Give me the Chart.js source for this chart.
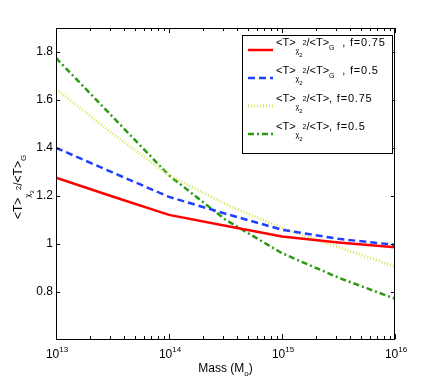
<!DOCTYPE html>
<html>
<head>
<meta charset="utf-8">
<script src="https://cdn.jsdelivr.net/npm/chart.js@4/dist/chart.umd.min.js"></script>
<style>
  html, body { margin: 0; padding: 0; background: #fff; }
</style>
</head>
<body>
<canvas id="chart" width="436" height="382"></canvas>
<script>
// data (mass in solar masses)
const mass = [1e13, 3.16e13, 1e14, 3.16e14, 1e15, 3.16e15, 1e16];
const ratioG75 = [1.275, 1.197, 1.12, 1.075, 1.03, 1.005, 0.985];
const ratioG50 = [1.40, 1.297, 1.195, 1.125, 1.058, 1.02, 0.995];
const ratioT75 = [1.645, 1.46, 1.285, 1.165, 1.065, 0.985, 0.905];
const ratioT50 = [1.775, 1.53, 1.285, 1.10, 0.96, 0.858, 0.77];

const yTicks = [0.8, 1, 1.2, 1.4, 1.6, 1.8];
const xDecades = [13, 14, 15, 16];
const legendTails = ['  , f=0.75', '  , f=0.5', ', f=0.75', ', f=0.5'];
const legendHasG = [true, true, false, false];

const FONT = '"Liberation Sans", Arial, Helvetica, sans-serif';
const font = s => s + 'px ' + FONT;

const series = [
  { data: ratioG75, color: '#ff0000', dash: [] },
  { data: ratioG50, color: '#2040ff', dash: [7, 4] },
  { data: ratioT75, color: '#d6e65e', dash: [1, 2] },
  { data: ratioT50, color: '#2a9a12', dash: [6, 3, 2, 3] }
];

// draws (or just measures) a run of text pieces; returns its width
function run(ctx, pieces, x, y, draw) {
  let cx = x;
  pieces.forEach(p => {
    ctx.font = font(p.s);
    ctx.letterSpacing = (p.ls || 0) + 'px';
    if (draw) ctx.fillText(p.t, cx, y + (p.dy || 0));
    cx += ctx.measureText(p.t).width;
    ctx.letterSpacing = '0px';
  });
  return cx - x;
}

// <T> with chi_2 subscript and 2 superscript, over <T> (or <T>_G)
function ratioPieces(base, withG, tail) {
  const k = base / 11;
  const small = Math.round(base * 0.68), tiny = Math.round(base * 0.5);
  const p = [
    { t: '<T>', s: base },
    { t: 'χ', s: small, dy: 7 * k },
    { t: '2', s: tiny, dy: 11 * k },
    { t: '2', s: small, dy: -1 * k },
    { t: '/<T>', s: base }
  ];
  if (withG) p.push({ t: 'G', s: small, dy: 4 * k });
  if (tail) p.push({ t: tail, s: base, ls: 0.8 });
  return p;
}

const decorations = {
  id: 'decorations',
  afterDraw(chart) {
    const ctx = chart.ctx;
    const a = chart.chartArea;
    const xs = chart.scales.x, ys = chart.scales.y;
    ctx.save();
    ctx.strokeStyle = '#000';
    ctx.fillStyle = '#000';
    ctx.lineWidth = 1;
    ctx.setLineDash([]);

    // axes box
    ctx.strokeRect(a.left + 0.5, a.top + 0.5, a.right - a.left - 1, a.bottom - a.top);

    // inward tick marks on all four sides
    ctx.beginPath();
    xs.ticks.forEach(t => {
      const px = Math.round(xs.getPixelForValue(t.value)) + 0.5;
      const major = Number.isInteger(Math.round(Math.log10(t.value) * 1000) / 1000);
      const len = major ? 5 : 3;
      ctx.moveTo(px, a.bottom); ctx.lineTo(px, a.bottom - len);
      ctx.moveTo(px, a.top); ctx.lineTo(px, a.top + len);
    });
    ys.ticks.forEach(t => {
      const py = Math.round(ys.getPixelForValue(t.value)) + 0.5;
      ctx.moveTo(a.left, py); ctx.lineTo(a.left + 4, py);
      ctx.moveTo(a.right, py); ctx.lineTo(a.right - 4, py);
    });
    ctx.stroke();

    // x tick labels with superscript exponents
    ctx.textBaseline = 'alphabetic';
    ctx.textAlign = 'left';
    xDecades.forEach(d => {
      const px = xs.getPixelForValue(Math.pow(10, d));
      const pieces = [{ t: '10', s: 12 }, { t: String(d), s: 8, dy: -6 }];
      const w = run(ctx, pieces, 0, 0, false);
      run(ctx, pieces, px - w / 2 + 1, a.bottom + 19, true);
    });

    // x title
    const xt = [{ t: 'Mass (M', s: 12 }, { t: 'o', s: 8, dy: 4 }, { t: ')', s: 12 }];
    const xw = run(ctx, xt, 0, 0, false);
    run(ctx, xt, (a.left + a.right) / 2 - xw / 2, 372, true);

    // y title, rotated
    const yt = ratioPieces(12, true, '');
    const yw = run(ctx, yt, 0, 0, false);
    ctx.save();
    ctx.translate(22, 187);
    ctx.rotate(-Math.PI / 2);
    run(ctx, yt, -yw / 2, 0, true);
    ctx.restore();

    // legend box
    const lx = 242, ly = 35, lw = 150, lh = 118;
    ctx.fillStyle = '#fff';
    ctx.fillRect(lx, ly, lw, lh);
    ctx.strokeStyle = '#000';
    ctx.strokeRect(lx + 0.5, ly + 0.5, lw, lh);
    const rowY = [50, 78, 106, 134];
    series.forEach((s, i) => {
      ctx.strokeStyle = s.color;
      ctx.lineWidth = i === 2 ? 3 : 2.5;
      ctx.setLineDash(s.dash);
      ctx.beginPath();
      ctx.moveTo(248, rowY[i]);
      ctx.lineTo(273, rowY[i]);
      ctx.stroke();
      ctx.setLineDash([]);
      ctx.fillStyle = '#000';
      run(ctx, ratioPieces(11, legendHasG[i], legendTails[i]), 276, rowY[i] - 4, true);
    });
    ctx.restore();
  }
};

new Chart(document.getElementById('chart'), {
  type: 'line',
  data: {
    datasets: series.map((s, i) => ({
      data: mass.map((m, j) => ({ x: m, y: s.data[j] })),
      borderColor: s.color,
      borderDash: s.dash,
      borderWidth: i === 2 ? 3 : 2.5,
      pointRadius: 0,
      tension: 0,
      fill: false
    }))
  },
  options: {
    responsive: false,
    animation: false,
    devicePixelRatio: 1,
    layout: { padding: { left: 0, top: 28, right: 41, bottom: 0 } },
    plugins: { legend: { display: false }, tooltip: { enabled: false } },
    scales: {
      x: {
        type: 'logarithmic',
        min: 1e13,
        max: 1e16,
        grid: { display: false, drawTicks: false },
        border: { display: false },
        ticks: { display: false, autoSkip: false },
        afterBuildTicks: sc => {
          const t = [];
          xDecades.forEach(d => {
            for (let k = 1; k <= 9; k++) {
              if (d === 16 && k > 1) break;
              t.push({ value: k * Math.pow(10, d) });
            }
          });
          sc.ticks = t;
        },
        afterFit: sc => { sc.height = 43; }
      },
      y: {
        min: 0.602,
        max: 1.9,
        grid: { display: false, drawTicks: false },
        border: { display: false },
        ticks: {
          color: '#000',
          padding: 3,
          font: { family: FONT, size: 12 },
          callback: v => String(Math.round(v * 10) / 10)
        },
        afterBuildTicks: sc => { sc.ticks = yTicks.map(v => ({ value: v })); },
        afterFit: sc => { sc.width = 56; }
      }
    }
  },
  plugins: [decorations]
});
</script>
</body>
</html>
